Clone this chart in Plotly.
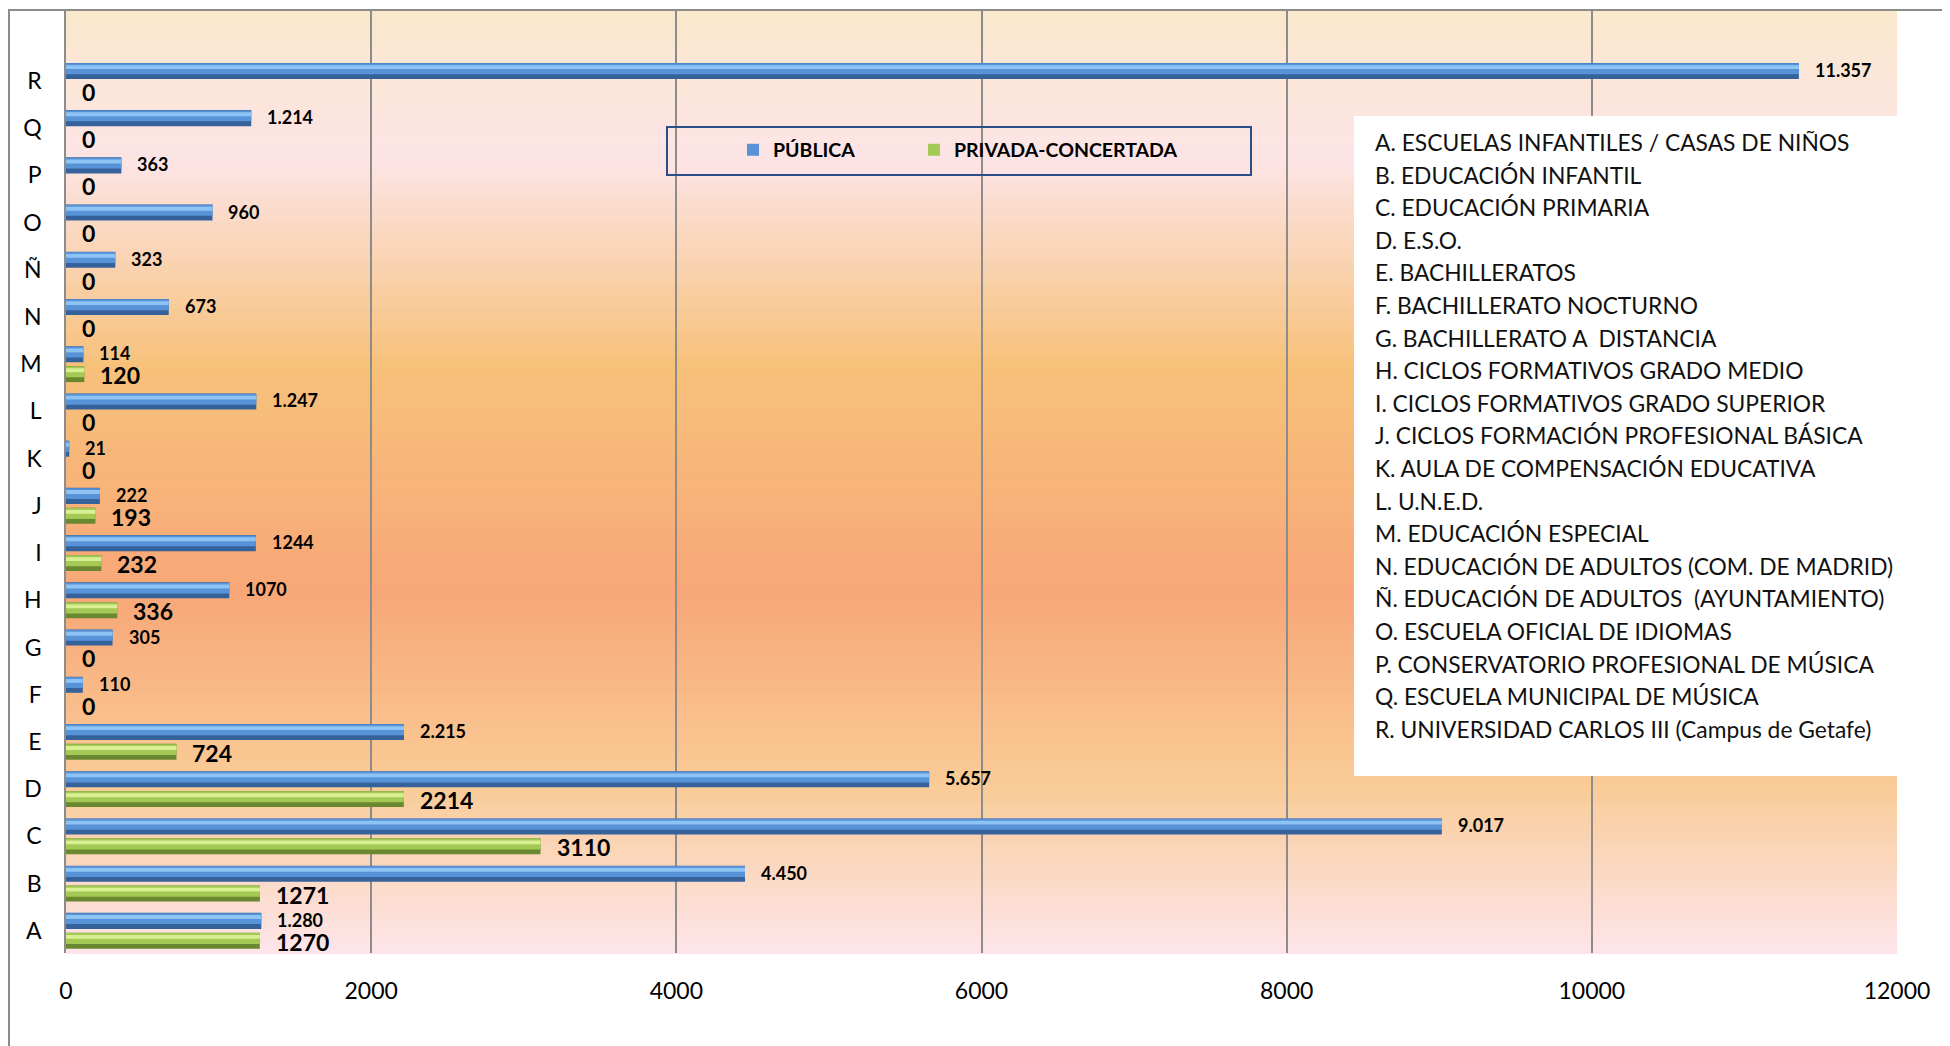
import plotly.graph_objects as go

# ---------------- data ----------------
letters = ["A", "B", "C", "D", "E", "F", "G", "H", "I", "J", "K", "L", "M", "N", "Ñ", "O", "P", "Q", "R"]
publica = [1280, 4450, 9017, 5657, 2215, 110, 305, 1070, 1244, 222, 21, 1247, 114, 673, 323, 960, 363, 1214, 11357]
publica_labels = ["1.280", "4.450", "9.017", "5.657", "2.215", "110", "305", "1070", "1244", "222", "21",
                  "1.247", "114", "673", "323", "960", "363", "1.214", "11.357"]
privada = [1270, 1271, 3110, 2214, 724, 0, 0, 336, 232, 193, 0, 0, 120, 0, 0, 0, 0, 0, 0]
descripciones = [
    "A. ESCUELAS INFANTILES / CASAS DE NIÑOS",
    "B. EDUCACIÓN INFANTIL",
    "C. EDUCACIÓN PRIMARIA",
    "D. E.S.O.",
    "E. BACHILLERATOS",
    "F. BACHILLERATO NOCTURNO",
    "G. BACHILLERATO A\u00a0 DISTANCIA",
    "H. CICLOS FORMATIVOS GRADO MEDIO",
    "I. CICLOS FORMATIVOS GRADO SUPERIOR",
    "J. CICLOS FORMACIÓN PROFESIONAL BÁSICA",
    "K. AULA DE COMPENSACIÓN EDUCATIVA",
    "L. U.N.E.D.",
    "M. EDUCACIÓN ESPECIAL",
    "N. EDUCACIÓN DE ADULTOS (COM. DE MADRID)",
    "Ñ. EDUCACIÓN DE ADULTOS\u00a0 (AYUNTAMIENTO)",
    "O. ESCUELA OFICIAL DE IDIOMAS",
    "P. CONSERVATORIO PROFESIONAL DE MÚSICA",
    "Q. ESCUELA MUNICIPAL DE MÚSICA",
    "R. UNIVERSIDAD CARLOS III (Campus de Getafe)",
]
x_ticks = [0, 2000, 4000, 6000, 8000, 10000, 12000]
series_names = ["PÚBLICA", "PRIVADA-CONCERTADA"]

# ---------------- layout geometry (figure pixels) ----------------
W, H = 1950, 1046
L, T = 58, 2
PW, PH = 1831, 943
R, B = W - L - PW, H - T - PH


def px_x(px):
    return (px - L) / PW


def px_y(py):
    return (H - B - py) / PH


FONT = "Lato, 'Open Sans', sans-serif"
idx = list(range(len(letters)))

BW = 0.34
OFF_PUB = 0.04
OFF_PRI = -0.38

fig = go.Figure()


def add_series(vals, off, dark, mid, light, name, legend):
    fig.add_trace(go.Bar(x=vals, y=idx, orientation="h", width=BW, offset=off,
                         marker=dict(color=dark, line=dict(width=0)),
                         showlegend=False, hoverinfo="skip"))
    fig.add_trace(go.Bar(x=vals, y=idx, orientation="h", width=BW * 0.68, offset=off + BW * 0.3,
                         marker=dict(color=mid, line=dict(width=0)),
                         name=name, showlegend=True, legend=legend))
    fig.add_trace(go.Bar(x=vals, y=idx, orientation="h", width=BW * 0.24, offset=off + BW * 0.62,
                         marker=dict(color=light, line=dict(width=0)),
                         showlegend=False, hoverinfo="skip"))


add_series(publica, OFF_PUB, "#36629B", "#5893D8", "#8EC4F4", series_names[0], "legend")
add_series(privada, OFF_PRI, "#6A8830", "#A5C955", "#D8EF92", series_names[1], "legend2")

annotations = []
for i in idx:
    annotations.append(dict(x=publica[i], y=i + OFF_PUB + BW / 2, xref="x", yref="y",
                            text=publica_labels[i], showarrow=False, xanchor="left", yanchor="middle",
                            xshift=14, yshift=1,
                            font=dict(family=FONT, size=18, color="#000000", weight="bold")))
    annotations.append(dict(x=privada[i], y=i + OFF_PRI + BW / 2, xref="x", yref="y",
                            text=str(privada[i]), showarrow=False, xanchor="left", yanchor="middle",
                            xshift=14, yshift=-1,
                            font=dict(family=FONT, size=23, color="#000000", weight="bold")))

# descriptive box text
for k, txt in enumerate(descripciones):
    annotations.append(dict(x=px_x(1365), y=px_y(134 + 32.6 * k), xref="paper", yref="paper",
                            text=txt, showarrow=False, xanchor="left", yanchor="middle",
                            font=dict(family=FONT, size=22.8, color="#111111")))

# ---------------- background gradient ----------------
stops = [(0.0, (250, 232, 204)), (0.16, (252, 228, 230)), (0.38, (247, 193, 122)),
         (0.62, (248, 167, 120)), (0.82, (249, 203, 150)), (1.0, (253, 229, 234))]


def grad(t):
    for (t0, c0), (t1, c1) in zip(stops[:-1], stops[1:]):
        if t0 <= t <= t1:
            f = (t - t0) / (t1 - t0)
            return "rgb(%d,%d,%d)" % tuple(round(a + (b - a) * f) for a, b in zip(c0, c1))
    return "rgb(%d,%d,%d)" % stops[-1][1]


shapes = []
N = 120
for k in range(N):
    t = (k + 0.5) / N
    shapes.append(dict(type="rect", xref="paper", yref="paper", x0=0, x1=1,
                       y0=1 - (k + 1) / N - 0.001, y1=1 - k / N + 0.001,
                       fillcolor=grad(t), line=dict(width=0), layer="below"))

# outer frame
shapes.append(dict(type="path", xref="paper", yref="paper",
                   path="M %f,%f L %f,%f L %f,%f" % (px_x(1), px_y(H), px_x(1), px_y(2), px_x(W), px_y(2)),
                   line=dict(color="#8C8C8C", width=2), layer="above"))
# white description box
shapes.append(dict(type="rect", xref="paper", yref="paper",
                   x0=px_x(1346), x1=px_x(1926), y0=px_y(768), y1=px_y(108),
                   fillcolor="#FFFFFF", line=dict(width=0), layer="above"))
# legend box
shapes.append(dict(type="rect", xref="paper", yref="paper",
                   x0=px_x(659), x1=px_x(1243), y0=px_y(167), y1=px_y(119),
                   fillcolor="rgba(0,0,0,0)", line=dict(color="#2B4E86", width=2), layer="above"))

legend_common = dict(orientation="h", yanchor="middle", xanchor="left", bgcolor="rgba(0,0,0,0)",
                     borderwidth=0, font=dict(family=FONT, size=19.5, color="#000000", weight="bold"))

fig.update_layout(
    width=W, height=H,
    margin=dict(l=L, r=R, t=T, b=B, pad=0, autoexpand=False),
    paper_bgcolor="#FFFFFF",
    plot_bgcolor="rgba(0,0,0,0)",
    barmode="overlay",
    font=dict(family=FONT, color="#000000"),
    shapes=shapes,
    annotations=annotations,
    legend=dict(x=px_x(725), y=px_y(142), **legend_common),
    legend2=dict(x=px_x(906), y=px_y(142), **legend_common),
    xaxis=dict(range=[0, 12000], tickvals=x_ticks, ticktext=[str(v) for v in x_ticks],
               showgrid=True, gridcolor="#8C8C8C", gridwidth=1.5, zeroline=False,
               showline=False, ticks="", ticklabelstandoff=22,
               tickfont=dict(family=FONT, size=23, color="#000000")),
    yaxis=dict(range=[-0.47, 19.5], tickvals=idx, ticktext=letters, showgrid=False,
               zeroline=False, showline=True, linecolor="#8C8C8C", linewidth=1.5,
               ticks="", ticklabelstandoff=18,
               tickfont=dict(family=FONT, size=23, color="#000000")),
)

fig.write_html("out.html")
